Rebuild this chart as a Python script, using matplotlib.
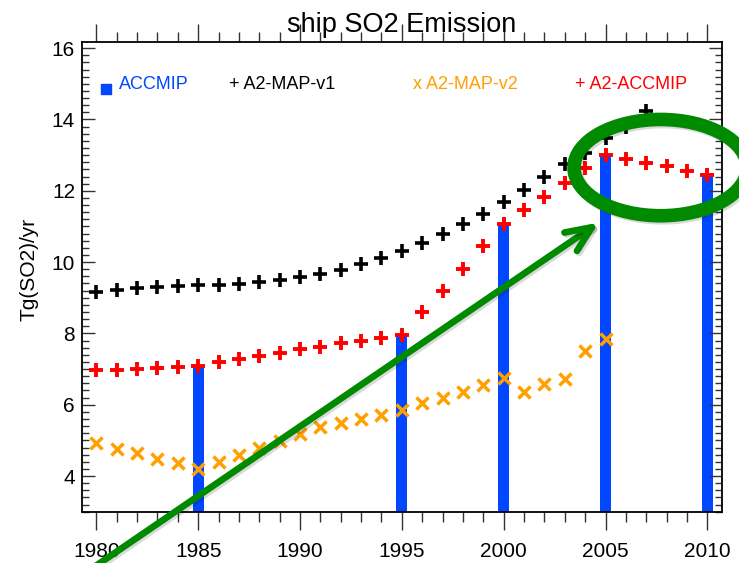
import numpy as np
import matplotlib
matplotlib.use('Agg')
import matplotlib.pyplot as plt
import matplotlib.patheffects as pe
from matplotlib.patches import Ellipse
from matplotlib.ticker import MultipleLocator

plt.rcParams['font.family'] = ['Liberation Sans', 'DejaVu Sans']

# ship SO2 emissions, Tg(SO2)/yr
years_v1 = np.arange(1980, 2008)
a2_map_v1 = [9.15, 9.22, 9.28, 9.31, 9.33, 9.35, 9.37, 9.39, 9.44, 9.50,
             9.58, 9.68, 9.79, 9.96, 10.12, 10.31, 10.53, 10.79, 11.06, 11.36,
             11.69, 12.02, 12.39, 12.74, 13.07, 13.48, 13.80, 14.24]
years_acc = np.arange(1980, 2011)
a2_accmip = [6.96, 6.98, 7.01, 7.03, 7.07, 7.10, 7.20, 7.27, 7.36, 7.44,
             7.55, 7.62, 7.73, 7.78, 7.88, 7.95, 8.61, 9.20, 9.81, 10.44,
             11.06, 11.47, 11.82, 12.22, 12.63, 13.00, 12.89, 12.78, 12.69, 12.56,
             12.44]
years_v2 = np.arange(1980, 2006)
a2_map_v2 = [4.93, 4.77, 4.65, 4.49, 4.36, 4.20, 4.40, 4.58, 4.80, 4.97,
             5.17, 5.37, 5.48, 5.59, 5.70, 5.85, 6.04, 6.18, 6.37, 6.55,
             6.74, 6.37, 6.59, 6.73, 7.51, 7.84]
years_bar = [1985, 1995, 2000, 2005, 2010]
accmip = [7.12, 7.93, 11.11, 13.04, 12.49]

blue = '#0047ff'
orange = '#ffa000'
green = '#008a00'

fig = plt.figure(figsize=(7.39, 5.63), dpi=100)
ax = fig.add_axes([0.111, 0.0911, 0.8656, 0.8348])

ax.bar(years_bar, accmip, width=0.55, color=blue, zorder=1)
ax.plot(years_v1, a2_map_v1, ls='none', marker='+', ms=10, mew=2.6, color='k', zorder=3)
ax.plot(years_acc, a2_accmip, ls='none', marker='+', ms=10, mew=2.8, color='red', zorder=3)
ax.plot(years_v2, a2_map_v2, ls='none', marker='x', ms=9, mew=2.5, color=orange, zorder=3)

ax.set_xlim(1979.3, 2010.7)
ax.set_ylim(3, 16.18)
ax.xaxis.set_major_locator(MultipleLocator(5))
ax.xaxis.set_minor_locator(MultipleLocator(1))
ax.yaxis.set_major_locator(MultipleLocator(2))
ax.yaxis.set_minor_locator(MultipleLocator(0.2))
ax.tick_params(axis='x', which='both', direction='out', top=True, bottom=True,
               colors='#333333', labelcolor='k', labelsize=15, pad=9)
ax.tick_params(axis='x', which='major', length=13, width=1)
ax.tick_params(axis='x', which='minor', length=7, width=1)
ax.tick_params(axis='y', which='both', direction='in', left=True, right=True,
               colors='#333333', labelcolor='k', labelsize=15, pad=5)
ax.tick_params(axis='y', which='major', length=9.5, width=1)
ax.tick_params(axis='y', which='minor', length=5, width=1)
for sp in ax.spines.values():
    sp.set_linewidth(1.3)

ax.set_ylabel('Tg(SO2)/yr', fontsize=15)
ax.yaxis.set_label_coords(-0.068, 0.515)
fig.text(0.543, 0.9437, 'ship SO2 Emission', ha='center', va='baseline', fontsize=19.5)

# legend written as text labels
ax.scatter([0.0375], [0.8996], marker='s', s=60, color=blue, transform=ax.transAxes, zorder=4)
ax.text(0.0578, 0.899, 'ACCMIP', color=blue, fontsize=13, transform=ax.transAxes)
ax.text(0.2298, 0.899, '+ A2-MAP-v1', color='k', fontsize=13, transform=ax.transAxes)
ax.text(0.517, 0.899, 'x A2-MAP-v2', color=orange, fontsize=13, transform=ax.transAxes)
ax.text(0.770, 0.899, '+ A2-ACCMIP', color='red', fontsize=13, transform=ax.transAxes)

# green highlight: arrow and ring
shadow = [pe.SimpleLineShadow(offset=(1.5, -1.5), shadow_color='k', alpha=0.15), pe.Normal()]
ann = ax.annotate('', xy=(2004.67, 11.11), xytext=(1979.0, 1.1),
                  arrowprops=dict(arrowstyle='->,head_length=1.85,head_width=0.8',
                                  lw=4.8, color=green, shrinkA=0, shrinkB=0),
                  annotation_clip=False, zorder=10)
ann.arrow_patch.set_path_effects(shadow)
ring = Ellipse((2007.7, 12.65), 8.5, 2.7, fill=False, lw=9.8, edgecolor=green,
               clip_on=False, zorder=10)
ring.set_path_effects(shadow)
ax.add_patch(ring)

fig.savefig('out.png', dpi=100)
